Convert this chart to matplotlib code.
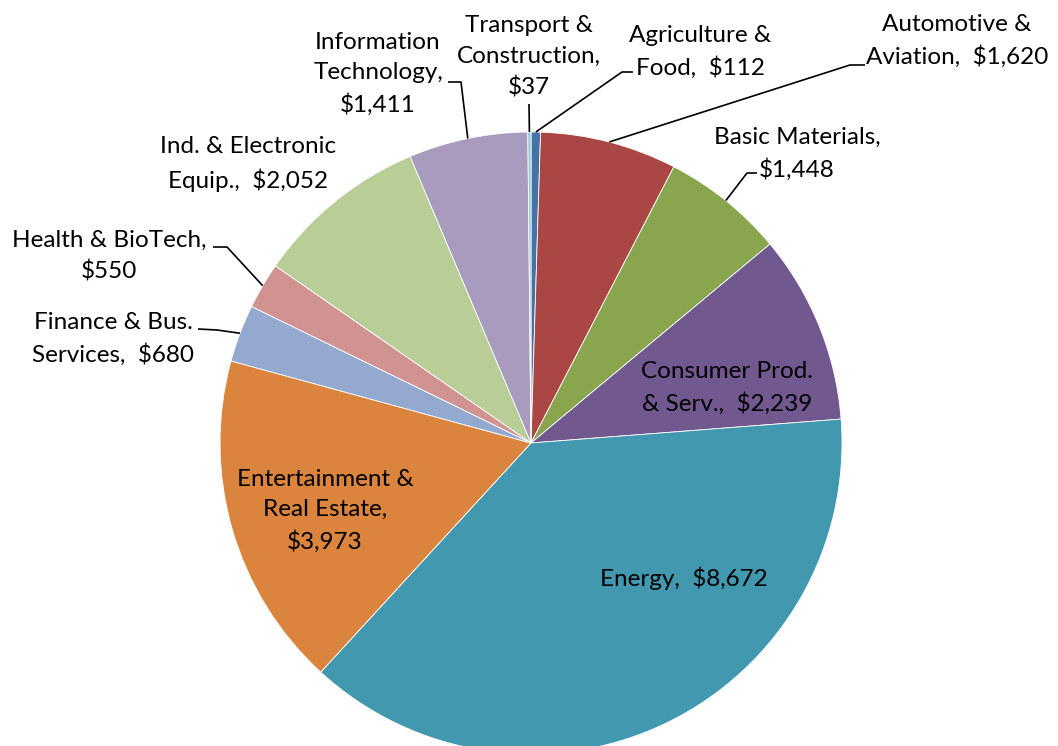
import numpy as np
import matplotlib
matplotlib.use("Agg")
import matplotlib.pyplot as plt

plt.rcParams["font.family"] = ["Lato", "DejaVu Sans"]

W, H = 1058, 746

sectors = [
    "Agriculture &\nFood", "Automotive &\nAviation", "Basic Materials",
    "Consumer Prod.\n& Serv.", "Energy", "Entertainment &\nReal Estate",
    "Finance & Bus.\nServices", "Health & BioTech", "Ind. & Electronic\nEquip.",
    "Information\nTechnology", "Transport &\nConstruction",
]
values = [112, 1620, 1448, 2239, 8672, 3973, 680, 550, 2052, 1411, 37]
value_sep = ["  ", "  ", "\n", "  ", "  ", "\n", "  ", "\n", "  ", "\n", "\n"]
colors = ["#4572A7", "#AA4643", "#89A54E", "#71588F", "#4198AF", "#DB843D",
          "#93A9CF", "#D19392", "#B9CD96", "#A99BBD", "#92C5D6"]

# label layout in image pixels (x, y from top); elbow = where the leader line bends
label_pos = [(700, 52), (957, 41), (797, 154), (727, 388), (684, 578), (325, 511),
             (113, 339), (109, 256), (248, 164), (378, 74), (529, 57)]
elbows = [((622, 72), (633, 72)), ((850, 65), (865, 65)), ((747, 173), (757, 173)),
          None, None, None,
          ((217, 330), (198, 329)), ((227, 247), (213, 247)), None,
          ((461, 82), (448, 82)), ((529, 104), (529, 104))]

cx, cy, r = 531, H - 443, 311

fig = plt.figure(figsize=(W / 100, H / 100), dpi=100)
ax = fig.add_axes([0, 0, 1, 1])
wedges, _ = ax.pie(values, colors=colors, startangle=90, counterclock=False,
                   center=(cx, cy), radius=r,
                   wedgeprops=dict(edgecolor="white", linewidth=0.6))
ax.set_xlim(0, W)
ax.set_ylim(0, H)
ax.set_aspect("equal")
ax.axis("off")

for w, name, v, sep, pos, elb in zip(wedges, sectors, values, value_sep, label_pos, elbows):
    txt = f"{name},{sep}${v:,}"
    ax.text(pos[0], H - pos[1], txt, ha="center", va="center", fontsize=17.5,
            color="black", linespacing=1.55)
    if elb is not None:
        ang = np.deg2rad((w.theta1 + w.theta2) / 2)
        ax_, ay_ = cx + r * np.cos(ang), cy + r * np.sin(ang)
        (ex, ey), (tx, ty) = elb
        ax.plot([ax_, ex, tx], [ay_, H - ey, H - ty], color="black", lw=1.2,
                solid_capstyle="butt")

fig.savefig("out.png", dpi=100, facecolor="white")
